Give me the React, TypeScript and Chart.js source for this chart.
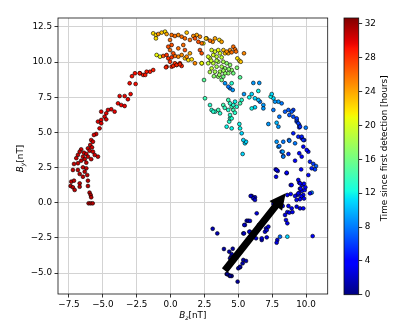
import React, { useEffect, useRef } from 'react';
import { Chart, registerables } from 'chart.js';

Chart.register(...registerables);

// ---- axes / ticks ----
const xTicks = [-7.5, -5, -2.5, 0, 2.5, 5, 7.5, 10];
const yTicks = [-5, -2.5, 0, 2.5, 5, 7.5, 10, 12.5];
const colorbarTicks = [0, 4, 8, 12, 16, 20, 24, 28, 32];
const xRange = [-8.31, 11.6];
const yRange = [-6.49, 13.14];
const hourRange = [0, 32.7];
const xLabel = { base: 'B', sub: 'z', unit: '[nT]' };
const yLabel = { base: 'B', sub: 'y', unit: '[nT]' };
const colorbarLabel = 'Time since first detection [hours]';

// thick arrow (data coordinates)
const arrowTail = [4.0, -4.82];
const arrowTip = [8.5, 0.67];

// ---- points: [Bz, By, hours] ----
const earlyPoints = [
  [4.14, -5.07, 0.5], [4.33, -5.16, 0.5], [4.51, -5.21, 0.6], [4.19, -5.07, 0.4], [4.39, -5.21, 0.5], [4.95, -5.61, 0.8],
  [3.94, -3.29, 1], [4.33, -3.48, 1], [4.51, -3.65, 1.1], [4.59, -3.27, 1], [4.45, -3.85, 1.2], [4.39, -3.95, 1],
  [5.37, -4.07, 1.2], [5.57, -4.14, 1.3], [5.32, -4.31, 1.2], [5.13, -4.59, 1.1], [5.0, -4.66, 1.0], [5.13, -4.55, 1.2],
  [3.11, -1.85, 1.5], [3.45, -2.18, 1.5],
  [5.62, -1.28, 2], [5.74, -1.28, 2], [5.86, -1.29, 2.1], [5.49, -1.58, 2], [5.44, -1.58, 2.2], [6.53, -1.58, 2.3],
  [6.55, -1.7, 2.2], [7.05, -1.82, 2.4], [7.22, -1.7, 2.5], [6.97, -2.06, 2.3], [7.1, -1.94, 2.4], [5.86, -2.06, 2.1],
  [5.81, -2.06, 2], [5.37, -2.18, 2], [5.42, -2.18, 2], [6.11, -2.37, 2.1], [6.73, -2.65, 2.3], [7.1, -2.46, 2.4],
  [6.31, -2.53, 2.2], [6.73, -2.53, 2.3], [7.88, -2.65, 2.8], [7.83, -2.84, 2.8], [10.49, -2.37, 4], [8.08, -2.41, 7.5],
  [8.62, -2.41, 11],
  [6.36, -0.75, 2.5], [5.99, 0.48, 2.2], [6.23, 0.39, 2.2], [5.91, 0.48, 2.3], [6.11, 0.31, 2.4], [6.23, 0.2, 2.4],
  [7.59, -0.09, 3], [7.83, -0.23, 3], [8.03, -0.16, 3], [8.28, -0.23, 3.1], [8.7, -0.23, 3.2], [8.94, -0.4, 3.2],
  [8.62, -0.66, 3.3], [8.77, -0.7, 3.3], [9.0, -0.66, 3.2], [9.31, -0.28, 2.8], [9.56, -0.4, 3.2], [9.8, -0.4, 3.4],
  [8.45, -0.87, 3], [8.52, -1.23, 3.1], [8.62, -1.46, 3.1], [8.87, 0.62, 3.5], [8.62, 0.55, 3.4],
];

const risePoints = [
  [9.5, 1.43, 3.5], [9.7, 1.26, 3.6], [9.85, 1.35, 3.7], [9.55, 1.0, 3.5], [9.7, 0.85, 3.6], [9.9, 0.9, 3.7],
  [9.5, 0.7, 3.5], [9.8, 0.55, 3.6], [9.65, 0.45, 3.5], [9.35, 0.55, 3.4], [9.85, 0.3, 3.7], [9.55, 0.25, 3.4],
  [9.3, 0.2, 3.3], [9.95, 1.1, 3.8], [8.87, 1.26, 4], [10.42, 0.72, 8],
  [7.76, 2.37, 3], [7.91, 2.26, 3], [7.79, 1.85, 3], [7.83, 2.33, 3.1], [8.57, 2.1, 5], [8.57, 2.14, 4],
  [8.94, 1.26, 3.5], [9.43, 1.62, 3.4], [9.56, 1.38, 3.5], [9.6, 1.0, 3.6], [10.29, 0.67, 4.2], [9.43, 0.67, 3.3],
  [9.19, 0.48, 3.2], [10.17, 1.97, 4.3],
  [9.19, 2.99, 4], [9.64, 2.37, 4], [10.29, 2.92, 5], [10.54, 2.76, 6], [10.74, 2.61, 7], [10.66, 2.37, 6],
  [10.42, 2.45, 5], [9.68, 3.28, 4], [10.17, 3.63, 4.5], [10.05, 3.75, 4.2], [9.5, 3.52, 4.4], [8.7, 3.47, 5],
  [8.2, 3.63, 6], [8.32, 3.32, 6], [8.28, 3.63, 9], [8.32, 3.28, 8], [7.96, 3.99, 9], [8.03, 4.03, 8],
  [7.83, 4.34, 9], [8.32, 4.34, 8], [8.74, 4.46, 7], [8.77, 4.41, 8], [9.19, 4.23, 8], [9.8, 3.99, 4],
  [9.87, 4.46, 5], [9.68, 4.58, 4], [9.43, 4.7, 5], [9.06, 4.94, 5], [9.68, 4.7, 5], [9.8, 4.46, 5.5],
  [9.98, 5.34, 8], [9.5, 5.36, 5], [9.5, 5.53, 6], [9.31, 5.77, 6], [9.43, 5.65, 6], [9.56, 5.41, 5.5],
  [9.31, 5.89, 6], [9.06, 6.6, 6], [9.31, 6.0, 6], [9.06, 6.12, 6.5], [8.94, 6.48, 7], [8.77, 6.24, 7],
  [8.7, 6.6, 7], [8.45, 6.48, 7], [8.03, 6.12, 8], [7.59, 6.6, 8], [8.2, 7.07, 8], [7.96, 7.19, 9],
  [7.71, 7.19, 9], [7.59, 7.43, 11], [7.39, 7.55, 12], [7.47, 7.73, 11], [7.22, 5.6, 9], [7.83, 5.69, 10],
  [7.96, 5.41, 9],
];

const middlePoints = [
  [6.85, 6.95, 9], [6.85, 6.71, 9], [6.6, 7.19, 8], [6.48, 7.31, 10], [6.23, 7.43, 11], [5.81, 7.5, 12],
  [6.48, 7.95, 12], [5.99, 7.73, 11], [5.42, 7.73, 9], [6.11, 8.52, 9], [6.55, 8.52, 9], [6.23, 6.79, 11],
  [5.99, 6.71, 12], [4.39, 8.14, 8], [4.26, 8.26, 8], [4.59, 8.02, 9], [4.02, 8.5, 9], [4.51, 8.5, 13],
  [5.32, 3.47, 11], [5.49, 4.23, 11], [5.57, 4.34, 11], [5.37, 4.46, 11], [5.25, 4.94, 11], [5.13, 5.29, 12],
  [5.08, 5.6, 12], [4.51, 5.29, 12], [4.14, 5.41, 12], [4.33, 5.77, 13], [4.39, 6.0, 13], [4.51, 6.0, 13],
  [4.39, 6.24, 13], [4.26, 6.6, 13], [4.63, 6.6, 14], [4.88, 6.83, 13], [4.51, 6.83, 14], [4.63, 6.95, 13],
  [4.39, 7.07, 13], [4.26, 7.31, 14], [4.76, 7.19, 12], [5.13, 7.07, 14], [5.25, 7.31, 13], [3.89, 6.95, 14],
  [3.65, 6.36, 13], [3.52, 6.6, 14], [3.28, 6.48, 13], [3.03, 6.6, 13], [2.91, 6.95, 13], [2.54, 7.43, 14],
  [3.15, 6.48, 13], [4.0, 6.75, 13.5], [4.75, 6.4, 13.2],
];

const topPoints = [
  [2.47, 8.73, 15], [5.13, 8.92, 15], [3.77, 8.73, 16], [4.63, 9.21, 16], [3.89, 8.97, 16], [3.52, 8.97, 17],
  [4.26, 9.21, 17], [4.02, 9.21, 17], [4.51, 9.44, 17], [4.02, 9.56, 17], [4.39, 9.8, 17], [4.14, 9.92, 17],
  [3.65, 9.32, 18], [3.28, 9.32, 18], [3.77, 9.68, 18], [3.4, 9.68, 18], [3.89, 10.03, 18], [3.52, 10.03, 18],
  [3.03, 9.56, 19], [3.15, 9.92, 19], [2.78, 9.92, 19], [2.3, 9.92, 19], [3.77, 10.34, 19], [3.4, 10.39, 19],
  [2.91, 10.27, 20], [2.78, 10.39, 20], [3.15, 10.51, 20], [3.65, 10.63, 20], [3.28, 10.75, 20], [3.03, 10.86, 20],
  [3.52, 10.86, 21], [4.9, 9.6, 16.5], [3.6, 9.1, 17.5], [3.2, 9.0, 17], [2.9, 9.3, 18.5], [4.3, 9.5, 17],
  [3.9, 9.4, 17.5], [3.0, 10.1, 19.5], [3.4, 10.1, 18.5],
  [2.42, 11.34, 21], [2.3, 9.92, 21], [-1.03, 10.51, 21], [-0.78, 10.39, 21], [2.66, 11.69, 22], [1.31, 10.15, 22],
  [1.56, 10.2, 22], [-1.28, 12.05, 22], [-1.08, 11.93, 22], [-1.08, 11.69, 22], [-0.41, 12.17, 22], [3.6, 11.58, 22],
  [4.93, 10.27, 22], [5.08, 10.1, 22], [5.18, 10.03, 23], [-0.66, 12.1, 23], [1.19, 12.1, 23], [2.61, 11.69, 23],
  [1.06, 10.27, 23], [3.9, 10.86, 23], [4.02, 10.63, 23], [-0.29, 12.0, 24], [1.93, 11.93, 24], [1.43, 10.63, 24],
  [3.28, 11.69, 24], [3.77, 11.45, 24], [4.26, 10.63, 24], [-0.91, 12.0, 25], [0.57, 11.93, 25], [1.68, 11.86, 25],
  [2.17, 11.81, 25], [1.19, 10.39, 25], [0.57, 10.39, 25], [0.82, 10.51, 25], [1.8, 9.92, 25], [3.11, 11.45, 25],
  [4.39, 10.86, 25], [4.14, 10.75, 25], [5.42, 10.63, 25], [0.08, 11.93, 26], [0.32, 11.86, 26], [0.82, 11.81, 26],
  [1.06, 11.69, 26], [1.43, 11.58, 26], [2.3, 11.34, 26], [2.91, 11.53, 26], [-0.04, 11.58, 26], [-0.04, 10.86, 26],
  [0.57, 10.98, 26], [0.94, 11.22, 26], [0.32, 10.44, 26], [4.63, 11.1, 26], [4.76, 10.91, 26], [4.51, 10.7, 26],
  [4.83, 10.75, 26], [1.8, 11.69, 27], [2.05, 11.45, 27], [0.08, 11.22, 27], [-0.17, 11.1, 27], [0.2, 10.63, 27],
  [1.06, 10.86, 27], [2.17, 10.86, 27], [2.3, 10.63, 27], [-0.54, 10.44, 27], [0.45, 9.8, 27],
];

const latePoints = [
  [-0.29, 10.51, 28], [-0.17, 10.27, 28], [0.08, 10.34, 28], [-0.04, 10.03, 28], [0.32, 9.92, 28], [0.69, 9.92, 28],
  [-0.29, 9.68, 28.5], [0.08, 9.68, 28.5], [0.82, 9.73, 28.5], [-0.34, 9.63, 28.5], [0.2, 9.73, 28.5], [0.45, 9.8, 28.5],
  [0.69, 9.85, 28.5], [-1.28, 9.44, 28.8], [-1.52, 9.32, 29], [-1.77, 9.32, 29], [-2.02, 9.09, 29], [-2.26, 9.21, 29.1],
  [-2.63, 9.21, 29.2], [-1.87, 9.09, 29], [-2.28, 9.21, 29.1], [-2.85, 9.0, 29.2], [-3.02, 8.5, 29.3], [-2.58, 8.45, 29.3],
  [-3.76, 7.59, 29.6], [-3.39, 7.59, 29.6], [-2.95, 7.73, 29.5], [-3.15, 7.36, 29.6], [-3.88, 7.07, 29.6], [-3.64, 6.95, 29.7],
  [-3.39, 6.88, 29.7], [-4.13, 6.48, 29.8], [-4.38, 6.65, 29.8], [-4.62, 6.6, 29.8], [-4.75, 6.36, 29.9], [-5.12, 6.48, 29.9],
  [-4.87, 6.12, 30], [-5.12, 5.89, 30], [-4.75, 5.93, 30], [-5.36, 5.77, 30], [-5.12, 5.65, 30], [-5.24, 5.29, 30.1],
  [-5.49, 4.89, 30.2], [-5.66, 4.82, 30.2], [-5.86, 4.46, 30.2], [-5.73, 4.34, 30.3], [-5.93, 4.11, 30.3], [-5.8, 3.94, 30.3],
  [-6.1, 3.87, 30.4], [-5.98, 3.7, 30.4], [-6.6, 3.8, 30.4], [-6.71, 3.63, 30.5], [-6.4, 3.56, 30.5], [-6.22, 3.47, 30.5],
  [-5.73, 3.63, 30.4], [-5.6, 3.4, 30.4], [-5.36, 3.28, 30.4], [-6.84, 3.4, 30.6], [-6.47, 3.28, 30.6], [-6.1, 3.28, 30.6],
  [-6.96, 3.17, 30.6], [-6.34, 3.1, 30.6], [-5.86, 3.1, 30.6], [-6.6, 2.99, 30.8], [-6.84, 2.81, 30.8], [-6.22, 2.85, 30.8],
  [-7.13, 2.76, 30.8], [-7.21, 2.33, 30.8], [-6.84, 2.33, 30.8], [-6.47, 2.52, 30.8], [-6.22, 2.45, 30.8], [-6.34, 2.21, 30.9],
  [-6.71, 2.05, 30.9], [-6.47, 1.85, 30.9], [-6.15, 1.97, 30.9], [-7.33, 1.5, 31], [-7.13, 1.57, 31], [-7.38, 1.19, 31],
  [-7.21, 1.1, 31], [-7.08, 0.91, 31], [-6.71, 1.38, 31], [-6.71, 1.14, 31], [-6.1, 1.57, 31], [-6.1, 1.19, 31],
  [-5.98, 0.72, 31.2], [-5.9, 0.55, 31.2], [-5.86, 0.39, 31.2], [-6.05, -0.04, 31.3], [-5.9, -0.04, 31.3], [-5.75, -0.04, 31.3],
];

const allPoints = [...earlyPoints, ...risePoints, ...middlePoints, ...topPoints, ...latePoints];

// ---- matplotlib "jet" colormap ----
const jetRed = [[0, 0], [0.35, 0], [0.66, 1], [0.89, 1], [1, 0.5]];
const jetGreen = [[0, 0], [0.125, 0], [0.375, 1], [0.64, 1], [0.91, 0], [1, 0]];
const jetBlue = [[0, 0.5], [0.11, 1], [0.34, 1], [0.65, 0], [1, 0]];

function interp(table: number[][], v: number) {
  if (v <= table[0][0]) return table[0][1];
  for (let i = 1; i < table.length; i++) {
    if (v <= table[i][0]) {
      const [x0, y0] = table[i - 1];
      const [x1, y1] = table[i];
      return y0 + ((v - x0) / (x1 - x0)) * (y1 - y0);
    }
  }
  return table[table.length - 1][1];
}
function jet(v: number) {
  const c = Math.max(0, Math.min(1, v));
  const r = Math.round(interp(jetRed, c) * 255);
  const g = Math.round(interp(jetGreen, c) * 255);
  const b = Math.round(interp(jetBlue, c) * 255);
  return `rgb(${r},${g},${b})`;
}
const hourNorm = (h: number) => (h - hourRange[0]) / (hourRange[1] - hourRange[0]);

const FONT = 'DejaVu Sans';
const FS = 8.8;
const fmtTick = (v: number, digits: number) => v.toFixed(digits).replace('-', '\u2212');

function drawBLabel(ctx: CanvasRenderingContext2D, lbl: { base: string; sub: string; unit: string }, cx: number, cy: number, rot: number) {
  ctx.save();
  ctx.translate(cx, cy);
  ctx.rotate(rot);
  ctx.fillStyle = '#000';
  ctx.textBaseline = 'alphabetic';
  ctx.textAlign = 'left';
  const fBase = `italic ${FS}px "${FONT}"`;
  const fSub = `italic ${FS * 0.7}px "${FONT}"`;
  const fUnit = `${FS}px "${FONT}"`;
  ctx.font = fBase; const w1 = ctx.measureText(lbl.base).width;
  ctx.font = fSub; const w2 = ctx.measureText(lbl.sub).width;
  ctx.font = fUnit; const w3 = ctx.measureText(lbl.unit).width;
  let x = -(w1 + w2 + w3) / 2;
  ctx.font = fBase; ctx.fillText(lbl.base, x, 0); x += w1;
  ctx.font = fSub; ctx.fillText(lbl.sub, x, 2); x += w2;
  ctx.font = fUnit; ctx.fillText(lbl.unit, x, 0);
  ctx.restore();
}

const mainDecor = {
  id: 'mainDecor',
  afterDatasetsDraw(chart: any) {
    const { ctx, scales } = chart;
    const xs = scales.x, ys = scales.y;
    const x0 = xs.getPixelForValue(arrowTail[0]), y0 = ys.getPixelForValue(arrowTail[1]);
    const x1 = xs.getPixelForValue(arrowTip[0]), y1 = ys.getPixelForValue(arrowTip[1]);
    const dx = x1 - x0, dy = y1 - y0, len = Math.hypot(dx, dy);
    const ux = dx / len, uy = dy / len, nx = -uy, ny = ux;
    const w = 3.6, hw = 8, hl = 16;
    const bx = x1 - ux * hl, by = y1 - uy * hl;
    ctx.save();
    ctx.beginPath();
    ctx.moveTo(x0 + nx * w, y0 + ny * w);
    ctx.lineTo(bx + nx * w, by + ny * w);
    ctx.lineTo(bx + nx * hw, by + ny * hw);
    ctx.lineTo(x1, y1);
    ctx.lineTo(bx - nx * hw, by - ny * hw);
    ctx.lineTo(bx - nx * w, by - ny * w);
    ctx.lineTo(x0 - nx * w, y0 - ny * w);
    ctx.closePath();
    ctx.fillStyle = '#000';
    ctx.fill();
    ctx.restore();
  },
  afterDraw(chart: any) {
    const { ctx, chartArea: a } = chart;
    ctx.save();
    ctx.strokeStyle = '#111';
    ctx.lineWidth = 0.8;
    ctx.strokeRect(a.left, a.top, a.right - a.left, a.bottom - a.top);
    ctx.restore();
    drawBLabel(ctx, xLabel, (a.left + a.right) / 2, a.bottom + 24.3, 0);
    drawBLabel(ctx, yLabel, a.left - 35.5, (a.top + a.bottom) / 2 + 2.5, -Math.PI / 2);
  },
};

const colorbarDecor = {
  id: 'colorbarDecor',
  beforeDatasetsDraw(chart: any) {
    const { ctx, chartArea: a, scales } = chart;
    const ys = scales.y;
    const yTop = ys.getPixelForValue(hourRange[1]);
    const yBot = ys.getPixelForValue(hourRange[0]);
    const grad = ctx.createLinearGradient(0, yBot, 0, yTop);
    for (let i = 0; i <= 64; i++) grad.addColorStop(i / 64, jet(i / 64));
    ctx.save();
    ctx.fillStyle = grad;
    ctx.fillRect(a.left, yTop, a.right - a.left, yBot - yTop);
    ctx.restore();
  },
  afterDraw(chart: any) {
    const { ctx, chartArea: a } = chart;
    ctx.save();
    ctx.strokeStyle = '#111';
    ctx.lineWidth = 0.8;
    ctx.strokeRect(a.left, a.top, a.right - a.left, a.bottom - a.top);
    ctx.translate(a.right + 28.5, (a.top + a.bottom) / 2 - 8);
    ctx.rotate(-Math.PI / 2);
    ctx.font = `${FS}px "${FONT}"`;
    ctx.fillStyle = '#000';
    ctx.textAlign = 'center';
    ctx.textBaseline = 'alphabetic';
    ctx.fillText(colorbarLabel, 0, 0);
    ctx.restore();
  },
};

export default function App() {
  const mainRef = useRef<HTMLCanvasElement>(null);
  const cbRef = useRef<HTMLCanvasElement>(null);

  useEffect(() => {
    const tickFont = { family: FONT, size: FS };
    const main = new Chart(mainRef.current!, {
      type: 'scatter',
      data: {
        datasets: [
          {
            data: allPoints.map((p) => ({ x: p[0], y: p[1] })),
            pointBackgroundColor: allPoints.map((p) => jet(hourNorm(p[2]))),
            pointBorderColor: '#000',
            pointBorderWidth: 0.6,
            pointRadius: 1.9,
            pointHoverRadius: 1.9,
          },
        ],
      },
      options: {
        animation: false,
        responsive: false,
        devicePixelRatio: 1,
        layout: { padding: { top: 18, right: 88.3, left: 0, bottom: 0 } },
        plugins: { legend: { display: false }, tooltip: { enabled: false } },
        scales: {
          x: {
            type: 'linear',
            min: xRange[0],
            max: xRange[1],
            afterBuildTicks: (s: any) => { s.ticks = xTicks.map((v) => ({ value: v })); },
            afterFit: (s: any) => { s.height = 37; },
            ticks: { font: tickFont, color: '#000', padding: 2, maxRotation: 0, callback: (v: any) => fmtTick(Number(v), 1) },
            grid: { color: '#d3d3d3', lineWidth: 1, tickLength: 3.5, tickColor: '#000', tickWidth: 0.8 },
            border: { display: false },
          },
          y: {
            type: 'linear',
            min: yRange[0],
            max: yRange[1],
            afterBuildTicks: (s: any) => { s.ticks = yTicks.map((v) => ({ value: v })); },
            afterFit: (s: any) => { s.width = 58; },
            ticks: { font: tickFont, color: '#000', padding: 2.5, callback: (v: any) => fmtTick(Number(v), 1) },
            grid: { color: '#d3d3d3', lineWidth: 1, tickLength: 3.5, tickColor: '#000', tickWidth: 0.8 },
            border: { display: false },
          },
        },
      },
      plugins: [mainDecor],
    } as any);

    const cb = new Chart(cbRef.current!, {
      type: 'scatter',
      data: { datasets: [{ data: [] }] },
      options: {
        animation: false,
        responsive: false,
        devicePixelRatio: 1,
        layout: { padding: { top: 18, right: 0, left: 14, bottom: 36.3 } },
        plugins: { legend: { display: false }, tooltip: { enabled: false } },
        scales: {
          x: { type: 'linear', display: false, min: 0, max: 1 },
          y: {
            type: 'linear',
            position: 'right',
            min: hourRange[0],
            max: hourRange[1],
            afterBuildTicks: (s: any) => { s.ticks = colorbarTicks.map((v) => ({ value: v })); },
            afterFit: (s: any) => { s.width = 57.3; },
            ticks: { font: tickFont, color: '#000', padding: 2.5, callback: (v: any) => fmtTick(Number(v), 0) },
            grid: { drawOnChartArea: false, tickLength: 3.5, tickColor: '#000', tickWidth: 0.8 },
            border: { display: false },
          },
        },
      },
      plugins: [colorbarDecor],
    } as any);

    return () => {
      main.destroy();
      cb.destroy();
    };
  }, []);

  return (
    <div style={{ position: 'fixed', left: 0, top: 0, width: 416, height: 331, background: '#fff' }}>
      <canvas ref={mainRef} width={416} height={331} style={{ position: 'absolute', left: 0, top: 0 }} />
      <canvas ref={cbRef} width={86} height={331} style={{ position: 'absolute', left: 330, top: 0 }} />
    </div>
  );
}
